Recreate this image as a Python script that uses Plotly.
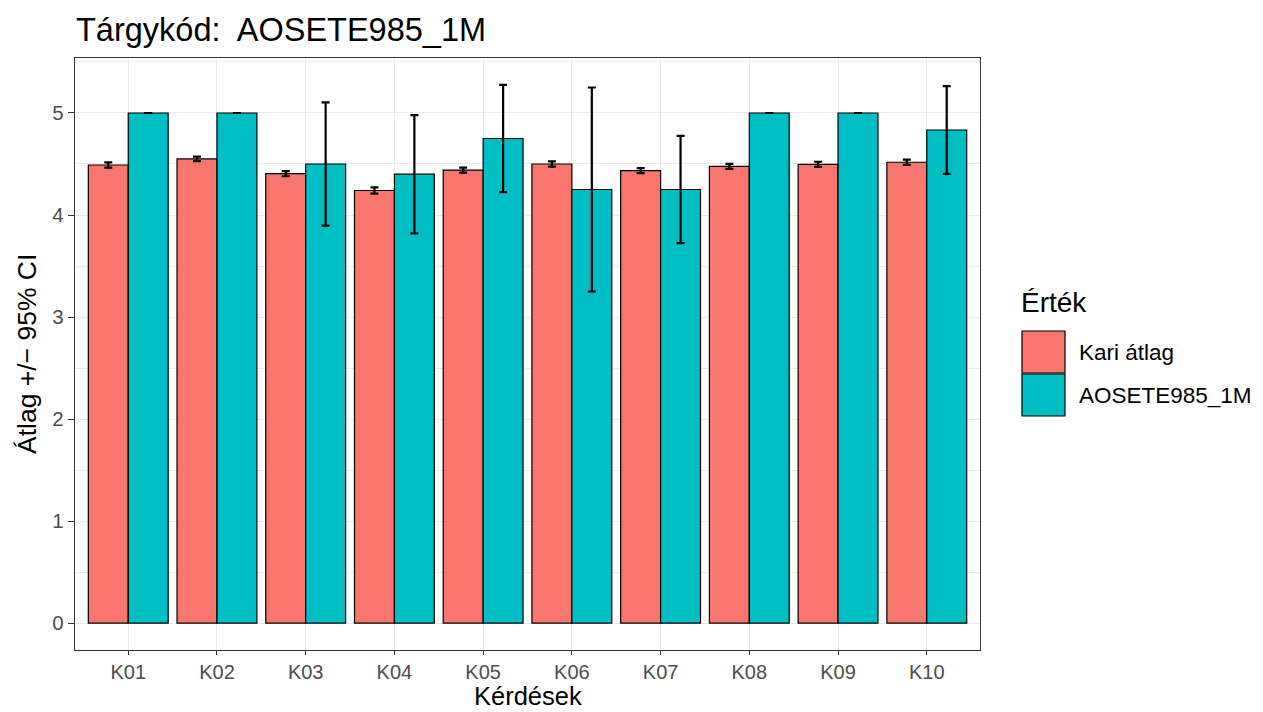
import plotly.graph_objects as go

categories = ["K01", "K02", "K03", "K04", "K05", "K06", "K07", "K08", "K09", "K10"]
kari_mean = [4.49, 4.55, 4.405, 4.24, 4.44, 4.50, 4.435, 4.477, 4.497, 4.517]
kari_ci = [0.025, 0.022, 0.025, 0.03, 0.025, 0.025, 0.025, 0.025, 0.025, 0.025]
targy_mean = [5.0, 5.0, 4.5, 4.4, 4.75, 4.25, 4.25, 5.0, 5.0, 4.833]
targy_ci = [0.0, 0.0, 0.605, 0.58, 0.525, 1.0, 0.525, 0.0, 0.0, 0.43]
series_names = ["Kari átlag", "AOSETE985_1M"]
colors = ["#F8766D", "#00BFC4"]
y_ticks = [0, 1, 2, 3, 4, 5]

FONT = "Liberation Sans, Arial, Helvetica, sans-serif"
OFF = 8  # page body margin in the browser
W, H = 1263 - OFF, 712 - OFF
L, R, T, B = 75 - OFF, 980 - OFF, 58 - OFF, 650 - OFF

fig = go.Figure()
for name, mean, ci, col in [(series_names[0], kari_mean, kari_ci, colors[0]),
                            (series_names[1], targy_mean, targy_ci, colors[1])]:
    fig.add_trace(go.Bar(
        x=categories, y=mean, name=name,
        marker=dict(color=col, line=dict(color="black", width=1.2)),
        error_y=dict(type="data", array=ci, visible=True, color="black",
                     thickness=2.2, width=4),
        showlegend=False,
    ))

fig.update_layout(
    width=W, height=H,
    margin=dict(l=L, r=W - R, t=T, b=H - B, pad=0),
    barmode="group", bargap=0.1, bargroupgap=0,
    plot_bgcolor="white", paper_bgcolor="white",
    font=dict(family=FONT, color="black"),
    title=dict(text="Tárgykód:  AOSETE985_1M", x=(L + 1) / W, xanchor="left",
               y=1 - (30 - OFF) / H, yanchor="middle",
               font=dict(size=32.5, color="black", family=FONT)),
    xaxis=dict(
        type="category", range=[-0.6, 9.6],
        showgrid=True, gridcolor="#EBEBEB", gridwidth=1.1,
        showline=True, linecolor="#333333", linewidth=1.3, mirror=True,
        ticks="outside", ticklen=4, tickwidth=1.3, tickcolor="#333333",
        tickfont=dict(size=20, color="#4D4D4D", family=FONT),
        zeroline=False,
    ),
    yaxis=dict(
        range=[-0.264, 5.539], tickvals=y_ticks,
        showgrid=True, gridcolor="#EBEBEB", gridwidth=1.1,
        minor=dict(dtick=0.5, showgrid=True, gridcolor="#EBEBEB", gridwidth=0.55),
        showline=True, linecolor="#333333", linewidth=1.3, mirror=True,
        ticks="outside", ticklen=6, tickwidth=1.3, tickcolor="#333333",
        tickfont=dict(size=20.5, color="#4D4D4D", family=FONT),
        zeroline=False,
    ),
)

pw, ph = R - L, B - T

def px_x(px):
    return (px - OFF - L) / pw

def px_y(py):
    return (B - (py - OFF)) / ph

annotations = [
    dict(text="Kérdések", x=0.5, y=px_y(711), xref="paper", yref="paper",
         showarrow=False, xanchor="center", yanchor="bottom", borderpad=0,
         font=dict(size=25.5, color="black", family=FONT)),
    dict(text="Átlag +/− 95% CI", x=px_x(27), y=0.5, xref="paper", yref="paper",
         showarrow=False, textangle=-90, xanchor="center", yanchor="middle",
         font=dict(size=26.5, color="black", family=FONT)),
    dict(text="Érték", x=px_x(1019), y=px_y(302), xref="paper", yref="paper",
         showarrow=False, xanchor="left", yanchor="middle",
         font=dict(size=28, color="black", family=FONT)),
]
shapes = []
key_tops = [331, 374]
for i, (name, col) in enumerate(zip(series_names, colors)):
    top = key_tops[i]
    shapes.append(dict(type="rect", xref="paper", yref="paper",
                       x0=px_x(1022), x1=px_x(1065), y0=px_y(top + 42), y1=px_y(top),
                       fillcolor=col, line=dict(color="black", width=1.2)))
    annotations.append(dict(text=name, x=px_x(1077), y=px_y(top + 21),
                            xref="paper", yref="paper", showarrow=False,
                            xanchor="left", yanchor="middle",
                            font=dict(size=22.5, color="black", family=FONT)))
fig.update_layout(annotations=annotations, shapes=shapes)

fig.write_html("out.html")
